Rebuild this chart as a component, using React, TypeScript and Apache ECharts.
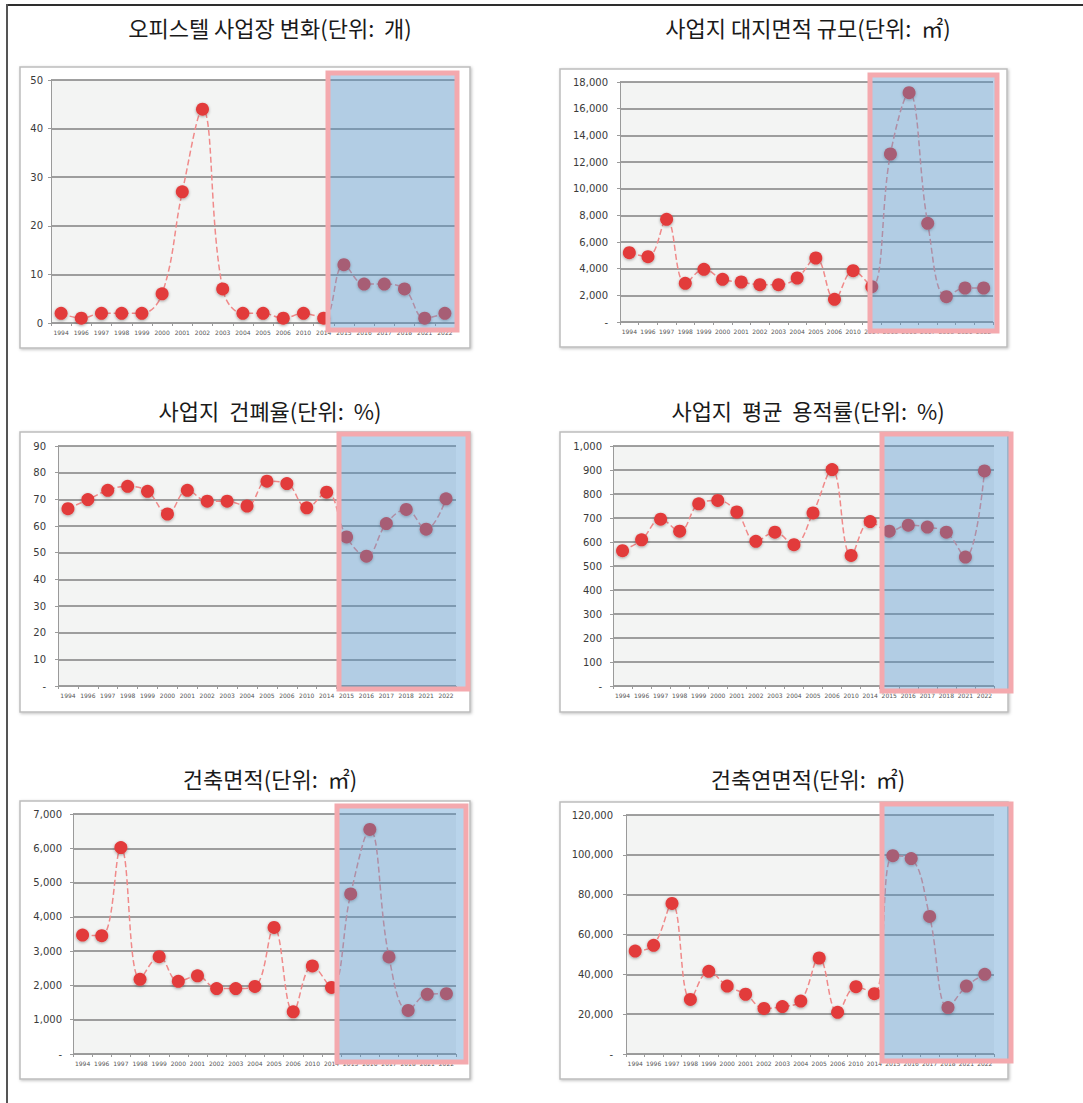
import React, { useEffect, useRef } from "react";
import * as echarts from "echarts";

const years = ["1994","1996","1997","1998","1999","2000","2001","2002","2003","2004","2005","2006","2010","2014","2015","2016","2017","2018","2021","2022"];

const titles = [
  "오피스텔 사업장 변화(단위:  개)",
  "사업지 대지면적 규모(단위:  ㎡)",
  "사업지  건폐율(단위:  %)",
  "사업지  평균  용적률(단위:  %)",
  "건축면적(단위:  ㎡)",
  "건축연면적(단위:  ㎡)",
];

const siteCount = [2,1,2,2,2,6,27,44,7,2,2,1,2,1,12,8,8,7,1,2];
const landArea = [5200,4900,7700,2900,3950,3200,3000,2800,2800,3300,4800,1700,3850,2650,12600,17200,7400,1900,2550,2550];
const coverage = [66.5,69.9,73.4,74.9,73.0,64.5,73.4,69.3,69.3,67.5,76.8,75.9,66.8,72.7,55.9,48.7,60.9,66.2,58.8,70.2];
const floorRatio = [564,609,695,645,759,773,725,603,641,589,721,902,544,685,645,670,662,641,537,896];
const buildingArea = [3470,3450,6020,2180,2840,2120,2280,1910,1910,1970,3690,1230,2570,1940,4670,6550,2830,1270,1740,1760];
const totalFloorArea = [51700,54600,75600,27400,41500,34100,30000,22900,23800,26600,48200,20900,33800,30300,99600,98100,69100,23300,34100,40000];

const seriesData = [siteCount, landArea, coverage, floorRatio, buildingArea, totalFloorArea];
const yMax = [50, 18000, 90, 1000, 7000, 120000];
const yStep = [10, 2000, 10, 100, 1000, 20000];

// layout (pixels)
const grids = [
  { left: 51, top: 80, width: 404, height: 243, labelMargin: 8 },
  { left: 620, top: 82, width: 373, height: 240, labelMargin: 12 },
  { left: 58, top: 446, width: 398, height: 240, labelMargin: 12 },
  { left: 613, top: 446, width: 381, height: 240, labelMargin: 11 },
  { left: 73, top: 814, width: 383, height: 240, labelMargin: 11 },
  { left: 626, top: 815, width: 368, height: 239, labelMargin: 13 },
];
const frames = [
  [20, 67, 450, 281],
  [560, 69, 447, 278],
  [20, 432, 450, 280],
  [560, 432, 448, 280],
  [20, 801, 450, 278],
  [560, 802, 448, 277],
];
const boxes = [
  [328, 73, 129, 257],
  [870, 75, 127, 256],
  [339, 434, 129, 255],
  [882, 434, 129, 257],
  [337, 806, 129, 256],
  [882, 804, 129, 257],
];
const titlePos = [
  [270, 27],
  [808, 27],
  [270, 410],
  [808, 410],
  [270, 778],
  [808, 778],
];

export default function App() {
  const ref = useRef<HTMLDivElement>(null);
  useEffect(() => {
    if (!ref.current) return;
    const chart = echarts.init(ref.current, undefined, { renderer: "svg" });
    const fmt = (i: number) => (v: number) => {
      if (v === 0) return i === 0 ? "0" : "-";
      return v.toLocaleString("en-US");
    };
    const graphic: any[] = [];
    graphic.push({ type: "line", z: 50, shape: { x1: 6, y1: 5, x2: 1083, y2: 5 }, style: { stroke: "#2e2e2e", lineWidth: 2 } });
    graphic.push({ type: "line", z: 50, shape: { x1: 7, y1: 4, x2: 7, y2: 1103 }, style: { stroke: "#555555", lineWidth: 2 } });
    frames.forEach((f) => {
      graphic.push({
        type: "rect", z: -10,
        shape: { x: f[0], y: f[1], width: f[2], height: f[3] },
        style: { fill: "#ffffff", stroke: "#bdbdbd", lineWidth: 1.5, shadowBlur: 3, shadowColor: "rgba(0,0,0,0.25)", shadowOffsetX: 1, shadowOffsetY: 1 },
      });
    });
    grids.forEach((g) => {
      graphic.push({
        type: "rect", z: -5,
        shape: { x: g.left, y: g.top, width: g.width, height: g.height },
        style: { fill: "#f3f4f3" },
      });
    });
    boxes.forEach((b) => {
      graphic.push({
        type: "rect", z: 100,
        shape: { x: b[0], y: b[1], width: b[2], height: b[3] },
        style: { fill: "rgba(80,148,205,0.40)", stroke: "#f4a9ae", lineWidth: 5 },
      });
    });
    titles.forEach((t, i) => {
      graphic.push({
        type: "text", z: 60,
        x: titlePos[i][0], y: titlePos[i][1],
        style: { text: t, fill: "#1a1a1a", font: '22px "Noto Sans CJK KR"', align: "center", verticalAlign: "middle" },
      });
    });

    const option: any = {
      animation: false,
      backgroundColor: "#ffffff",
      grid: grids.map((g) => ({
        left: g.left, top: g.top, width: g.width, height: g.height,
        show: false,
      })),
      xAxis: grids.map((g, i) => ({
        type: "category", gridIndex: i, data: years, boundaryGap: true,
        axisLine: { show: true, lineStyle: { color: "#9a9a9a", width: 1 } },
        axisTick: { show: true, interval: 0, length: 3, lineStyle: { color: "#9a9a9a" } },
        axisLabel: { interval: 0, fontSize: 6, color: "#555555", margin: 6, fontFamily: "DejaVu Sans" },
        splitLine: { show: false },
      })),
      yAxis: grids.map((g, i) => ({
        type: "value", gridIndex: i, min: 0, max: yMax[i], interval: yStep[i],
        axisLine: { show: true, lineStyle: { color: "#9a9a9a", width: 1 } },
        axisTick: { show: true, length: 3, lineStyle: { color: "#9a9a9a" } },
        axisLabel: { formatter: fmt(i), fontSize: 10, color: "#3a3a3a", margin: g.labelMargin, fontFamily: "DejaVu Sans" },
        splitLine: { show: true, lineStyle: { color: "#808080", width: 1.6 } },
      })),
      series: seriesData.map((d, i) => ({
        type: "line", xAxisIndex: i, yAxisIndex: i, data: d,
        smooth: 0.4, symbol: "circle", symbolSize: 13,
        lineStyle: { color: "#f08a8a", width: 1.5, type: "dashed" },
        itemStyle: { color: "#e23b3b", shadowBlur: 3, shadowColor: "rgba(0,0,0,0.35)", shadowOffsetY: 1 },
        z: 3,
      })),
      graphic,
    };
    chart.setOption(option);
    return () => chart.dispose();
  }, []);
  return <div ref={ref} style={{ position: "absolute", left: 0, top: 0, width: 1083, height: 1103 }} />;
}
